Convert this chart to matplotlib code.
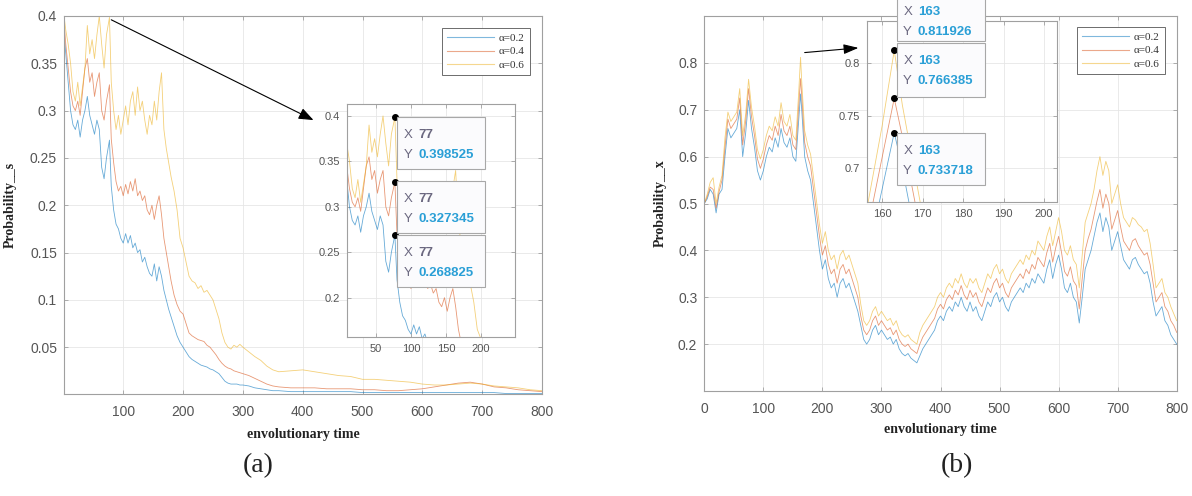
import matplotlib
matplotlib.use("Agg")
import matplotlib.pyplot as plt
from matplotlib.patches import Rectangle
from matplotlib.transforms import IdentityTransform
from matplotlib.ticker import FormatStrFormatter

# ---------------- data: panel (a) ----------------
t_a = [1, 4, 8, 12, 16, 20, 24, 28, 32, 36,
       40, 44, 48, 52, 56, 60, 64, 68, 72, 77,
       80, 84, 88, 92, 96, 100, 104, 108, 112, 116,
       120, 124, 128, 132, 136, 140, 144, 148, 152, 156,
       160, 164, 168, 172, 176, 180,
       185, 190, 195, 200, 205, 210, 215, 220, 225, 230,
       235, 240, 245, 250, 255, 260, 265, 270, 275, 280,
       285, 290, 295, 300,
       310, 320, 330, 340, 350, 360,
       380, 400, 420, 440, 460, 480, 500, 520, 540, 560, 580, 600,
       620, 640, 660, 680, 700, 720, 740, 760, 780, 800]

s_a02 = [0.38, 0.36, 0.33, 0.30, 0.285, 0.28, 0.29, 0.272, 0.29, 0.30,
         0.315, 0.295, 0.285, 0.275, 0.29, 0.28, 0.24, 0.228, 0.25, 0.268825,
         0.22, 0.195, 0.18, 0.175, 0.165, 0.16, 0.17, 0.16, 0.168, 0.155,
         0.16, 0.15, 0.153, 0.14, 0.145, 0.135, 0.128, 0.125, 0.138, 0.12,
         0.135, 0.125, 0.11, 0.10, 0.09, 0.082,
         0.072, 0.062, 0.055, 0.05, 0.045, 0.04, 0.037, 0.035, 0.033, 0.031,
         0.03, 0.029, 0.027, 0.026, 0.024, 0.022, 0.018, 0.014, 0.012, 0.011,
         0.011, 0.011, 0.010, 0.010,
         0.009, 0.007, 0.006, 0.005, 0.004, 0.004,
         0.003, 0.003, 0.003, 0.003, 0.003, 0.003, 0.002, 0.002, 0.002, 0.002, 0.002, 0.002,
         0.002, 0.002, 0.002, 0.002, 0.002, 0.002, 0.001, 0.001, 0.001, 0.001]

s_a04 = [0.395, 0.37, 0.345, 0.32, 0.305, 0.30, 0.31, 0.295, 0.32, 0.345,
         0.355, 0.33, 0.34, 0.315, 0.33, 0.34, 0.30, 0.29, 0.31, 0.327345,
         0.27, 0.245, 0.225, 0.215, 0.22, 0.21, 0.222, 0.212, 0.225, 0.215,
         0.228, 0.21, 0.215, 0.205, 0.21, 0.195, 0.19, 0.20, 0.185, 0.20,
         0.21, 0.19, 0.165, 0.15, 0.135, 0.12,
         0.105, 0.095, 0.088, 0.085, 0.075, 0.065, 0.062, 0.06, 0.058, 0.057,
         0.056, 0.052, 0.05, 0.046, 0.042, 0.037, 0.033, 0.03, 0.028, 0.027,
         0.025, 0.024, 0.023, 0.022,
         0.02, 0.017, 0.014, 0.011, 0.009, 0.008,
         0.007, 0.007, 0.007, 0.006, 0.006, 0.006, 0.005, 0.005, 0.004, 0.004, 0.005, 0.006,
         0.008, 0.01, 0.012, 0.013, 0.011, 0.008, 0.007, 0.005, 0.004, 0.003]

s_a06 = [0.40, 0.385, 0.37, 0.35, 0.32, 0.31, 0.33, 0.305, 0.325, 0.345,
         0.39, 0.36, 0.375, 0.355, 0.38, 0.40, 0.37, 0.345, 0.38, 0.398525,
         0.33, 0.30, 0.28, 0.295, 0.275, 0.29, 0.305, 0.285, 0.31, 0.32,
         0.295, 0.325, 0.30, 0.31, 0.29, 0.275, 0.295, 0.285, 0.31, 0.29,
         0.32, 0.34, 0.28, 0.26, 0.245, 0.23,
         0.215, 0.195, 0.165, 0.155, 0.14, 0.125, 0.12, 0.118, 0.112, 0.115,
         0.108, 0.11, 0.105, 0.10, 0.09, 0.08, 0.065, 0.055, 0.05, 0.048,
         0.052, 0.05, 0.053, 0.05,
         0.045, 0.04, 0.036, 0.03, 0.026, 0.024,
         0.025, 0.026, 0.024, 0.022, 0.02, 0.019, 0.016, 0.016, 0.015, 0.014, 0.013, 0.011,
         0.01, 0.01, 0.011, 0.012, 0.011, 0.009, 0.008, 0.007, 0.005, 0.004]

tip_a_x = 77
tip_a_y = [0.398525, 0.327345, 0.268825]

# ---------------- data: panel (b) ----------------
t_b = list(range(0, 161, 5)) + [163] + list(range(165, 801, 5))

x_b02 = [0.50, 0.51, 0.53, 0.52, 0.48, 0.52, 0.53, 0.60, 0.66, 0.64,
         0.65, 0.66, 0.70, 0.60, 0.65, 0.72, 0.66, 0.62, 0.57, 0.55,
         0.57, 0.60, 0.62, 0.61, 0.64, 0.62, 0.66, 0.63, 0.62, 0.64,
         0.60, 0.59, 0.68, 0.733718, 0.70, 0.60, 0.57, 0.55, 0.50, 0.45, 0.40,
         0.36, 0.38, 0.34, 0.32, 0.33, 0.30, 0.33, 0.34, 0.32, 0.33,
         0.31, 0.29, 0.27, 0.24, 0.21, 0.20, 0.21, 0.23, 0.24, 0.22,
         0.23, 0.22, 0.21, 0.215, 0.20, 0.21, 0.19, 0.18, 0.175, 0.18,
         0.17, 0.165, 0.16, 0.175, 0.19, 0.20, 0.21, 0.22, 0.23, 0.25,
         0.26, 0.25, 0.27, 0.28, 0.27, 0.29, 0.28, 0.30, 0.28, 0.27,
         0.29, 0.27, 0.28, 0.26, 0.25, 0.27, 0.29, 0.28, 0.30, 0.31,
         0.29, 0.30, 0.28, 0.27, 0.29, 0.30, 0.31, 0.32, 0.31, 0.33,
         0.32, 0.34, 0.33, 0.35, 0.34, 0.33, 0.36, 0.38, 0.34, 0.37,
         0.39, 0.36, 0.32, 0.31, 0.33, 0.30, 0.29, 0.245, 0.30, 0.36,
         0.38, 0.40, 0.43, 0.46, 0.48, 0.44, 0.47, 0.45, 0.40, 0.42,
         0.44, 0.41, 0.38, 0.37, 0.36, 0.38, 0.385, 0.37, 0.36, 0.35,
         0.355, 0.33, 0.29, 0.26, 0.27, 0.28, 0.25, 0.24, 0.22, 0.21,
         0.20]

x_b04 = [0.50, 0.515, 0.535, 0.53, 0.49, 0.525, 0.55, 0.62, 0.68, 0.66,
         0.67, 0.68, 0.725, 0.625, 0.675, 0.745, 0.685, 0.645, 0.595, 0.575,
         0.595, 0.625, 0.645, 0.635, 0.665, 0.645, 0.69, 0.655, 0.645, 0.665,
         0.625, 0.615, 0.71, 0.766385, 0.73, 0.63, 0.60, 0.58, 0.53, 0.48, 0.43,
         0.39, 0.41, 0.37, 0.35, 0.36, 0.33, 0.36, 0.37, 0.35, 0.36,
         0.34, 0.32, 0.30, 0.26, 0.23, 0.22, 0.23, 0.25, 0.26, 0.24,
         0.25, 0.24, 0.23, 0.235, 0.22, 0.23, 0.21, 0.20, 0.195, 0.20,
         0.19, 0.185, 0.18, 0.20, 0.215, 0.225, 0.235, 0.245, 0.255, 0.275,
         0.285, 0.275, 0.295, 0.305, 0.295, 0.315, 0.305, 0.325, 0.305, 0.295,
         0.315, 0.30, 0.31, 0.29, 0.28, 0.30, 0.32, 0.31, 0.33, 0.34,
         0.32, 0.33, 0.31, 0.30, 0.32, 0.33, 0.34, 0.35, 0.34, 0.36,
         0.35, 0.37, 0.36, 0.385, 0.375, 0.365, 0.395, 0.415, 0.375, 0.405,
         0.43, 0.395, 0.355, 0.345, 0.365, 0.335, 0.325, 0.275, 0.34, 0.40,
         0.425, 0.445, 0.475, 0.505, 0.53, 0.49, 0.52, 0.50, 0.445, 0.465,
         0.485, 0.45, 0.42, 0.41, 0.40, 0.42, 0.425, 0.41, 0.40, 0.39,
         0.395, 0.37, 0.33, 0.29, 0.30, 0.31, 0.28, 0.27, 0.25, 0.24,
         0.225]

x_b06 = [0.50, 0.52, 0.545, 0.555, 0.50, 0.535, 0.56, 0.64, 0.695, 0.675,
         0.685, 0.695, 0.745, 0.645, 0.69, 0.765, 0.705, 0.665, 0.615, 0.595,
         0.615, 0.645, 0.665, 0.655, 0.685, 0.665, 0.715, 0.675, 0.665, 0.69,
         0.645, 0.635, 0.74, 0.811926, 0.76, 0.655, 0.625, 0.605, 0.555, 0.505, 0.455,
         0.415, 0.44, 0.40, 0.38, 0.39, 0.36, 0.39, 0.40, 0.38, 0.39,
         0.37, 0.35, 0.33, 0.285, 0.25, 0.24, 0.25, 0.27, 0.28, 0.26,
         0.27, 0.26, 0.25, 0.255, 0.24, 0.25, 0.23, 0.22, 0.215, 0.22,
         0.21, 0.205, 0.20, 0.225, 0.24, 0.25, 0.26, 0.27, 0.28, 0.30,
         0.31, 0.30, 0.32, 0.33, 0.32, 0.34, 0.33, 0.35, 0.33, 0.32,
         0.34, 0.33, 0.34, 0.32, 0.31, 0.33, 0.35, 0.34, 0.36, 0.37,
         0.35, 0.36, 0.34, 0.33, 0.35, 0.36, 0.37, 0.38, 0.37, 0.39,
         0.38, 0.40, 0.39, 0.42, 0.41, 0.40, 0.43, 0.45, 0.41, 0.44,
         0.47, 0.44, 0.40, 0.39, 0.41, 0.38, 0.37, 0.32, 0.39, 0.46,
         0.48, 0.50, 0.53, 0.57, 0.60, 0.56, 0.59, 0.57, 0.50, 0.52,
         0.54, 0.50, 0.47, 0.46, 0.45, 0.47, 0.465, 0.455, 0.45, 0.44,
         0.445, 0.415, 0.37, 0.32, 0.33, 0.34, 0.31, 0.30, 0.28, 0.265,
         0.25]

tip_b_x = 163
tip_b_y = [0.811926, 0.766385, 0.733718]

labels = ["\u03b1=0.2", "\u03b1=0.4", "\u03b1=0.6"]
colors = ["#0072BD", "#D95319", "#EDB120"]

# ---------------- figure ----------------
W, H = 1192, 496
fig = plt.figure(figsize=(W / 100, H / 100), dpi=100)


def fbox(l, t, r, b):
    return [l / W, 1 - b / H, (r - l) / W, (b - t) / H]


ax_a = fig.add_axes(fbox(64, 16, 542, 394))
ax_b = fig.add_axes(fbox(704.3, 16, 1176.7, 391))
ins_a = fig.add_axes(fbox(346.7, 103.7, 515, 336.7))
ins_b = fig.add_axes(fbox(866.7, 21, 1056.7, 201.7))

TICK_COL = "#555555"
SPINE_COL = "#a0a0a0"


def style(ax, fs):
    for sp in ax.spines.values():
        sp.set_color(SPINE_COL)
        sp.set_linewidth(0.8)
    ax.tick_params(direction="in", top=True, right=True, length=3, width=0.6,
                   colors=SPINE_COL, labelcolor=TICK_COL, labelsize=fs, pad=5)
    ax.grid(True, color="#e6e6e6", linewidth=0.6)
    ax.set_axisbelow(True)
    for lab in ax.get_xticklabels() + ax.get_yticklabels():
        lab.set_family("Liberation Sans")


series_a = [s_a02, s_a04, s_a06]
series_b = [x_b02, x_b04, x_b06]

for ax in (ax_a, ins_a):
    for s, c, lab in zip(series_a, colors, labels):
        ax.plot(t_a, s, color=c, lw=0.6, alpha=0.6, label=lab)
for ax in (ax_b, ins_b):
    for s, c, lab in zip(series_b, colors, labels):
        ax.plot(t_b, s, color=c, lw=0.6, alpha=0.6, label=lab)

# panel (a) main
ax_a.set_xlim(1, 800)
ax_a.set_ylim(0.0005, 0.4)
ax_a.set_xticks([100, 200, 300, 400, 500, 600, 700, 800])
ax_a.set_yticks([0.05, 0.1, 0.15, 0.2, 0.25, 0.3, 0.35, 0.4])
ax_a.yaxis.set_major_formatter(FormatStrFormatter("%g"))
style(ax_a, 10)
ax_a.tick_params(axis="x", pad=8)

# panel (b) main
ax_b.set_xlim(0, 800)
ax_b.set_ylim(0.1, 0.9)
ax_b.set_xticks([0, 100, 200, 300, 400, 500, 600, 700, 800])
ax_b.set_yticks([0.2, 0.3, 0.4, 0.5, 0.6, 0.7, 0.8])
ax_b.yaxis.set_major_formatter(FormatStrFormatter("%g"))
style(ax_b, 10)
ax_b.tick_params(axis="x", pad=8)

# insets
ins_a.set_xlim(8, 249)
ins_a.set_ylim(0.157, 0.4135)
ins_a.set_xticks([50, 100, 150, 200])
ins_a.set_yticks([0.2, 0.25, 0.3, 0.35, 0.4])
ins_a.yaxis.set_major_formatter(FormatStrFormatter("%g"))
style(ins_a, 8)

ins_b.set_xlim(156.2, 203.1)
ins_b.set_ylim(0.668, 0.840)
ins_b.set_xticks([160, 170, 180, 190, 200])
ins_b.set_yticks([0.7, 0.75, 0.8])
ins_b.yaxis.set_major_formatter(FormatStrFormatter("%g"))
style(ins_b, 8)

# labels
lab_font = dict(family="Liberation Serif", fontweight="bold", fontsize=10, color="#222222")
ax_a.set_xlabel("envolutionary time", **lab_font)
ax_b.set_xlabel("envolutionary time", **lab_font)
ax_a.set_ylabel("Probability__s", **lab_font)
ax_b.set_ylabel("Probability__x", **lab_font)
ax_a.xaxis.set_label_coords(0.5, (394 - 428) / 378)
ax_b.xaxis.set_label_coords(0.5, (391 - 423) / 375)
ax_a.yaxis.set_label_coords((17 - 64) / 478, 0.5)
ax_b.yaxis.set_label_coords((667 - 704.3) / 472.4, 0.5)

# legends
for ax, (r, t) in ((ax_a, (530, 28)), (ax_b, (1165, 27))):
    leg = ax.legend(loc="upper right", bbox_to_anchor=(r / W, 1 - t / H),
                    bbox_transform=fig.transFigure, fancybox=False, framealpha=1,
                    edgecolor="#555555", prop=dict(family="Liberation Serif", size=8),
                    handlelength=4.2, handletextpad=0.4, labelspacing=0.3,
                    borderpad=0.5, borderaxespad=0)
    leg.get_frame().set_linewidth(0.6)
    for ln in leg.get_lines():
        ln.set_linewidth(0.8)
        ln.set_alpha(0.5)
    for tx in leg.get_texts():
        tx.set_color("#333333")

# arrows
ax_a.annotate("", xy=(418, 0.29), xytext=(80, 0.396), annotation_clip=False,
              arrowprops=dict(arrowstyle="-|>,head_length=0.9,head_width=0.35",
                              color="black", lw=0.8, shrinkA=0, shrinkB=0))
ax_b.annotate("", xy=(261, 0.832), xytext=(170, 0.822), annotation_clip=False,
              arrowprops=dict(arrowstyle="-|>,head_length=0.9,head_width=0.3",
                              color="black", lw=0.8, shrinkA=0, shrinkB=0))

# data tips
ins_a.plot([tip_a_x] * 3, tip_a_y, "o", color="black", ms=4, clip_on=False, zorder=5)
ins_b.plot([tip_b_x] * 3, tip_b_y, "o", color="black", ms=4, clip_on=False, zorder=5)

LBL_COL = "#6b6880"
VAL_COL = "#2a9fd6"
ident = IdentityTransform()


def datatip(ax, x, y, top_off, height, xval_col):
    dx, dy = ax.transData.transform((x, y))
    my = H - dy
    left = dx + 2.5
    top = my + top_off
    rect = Rectangle((left, H - (top + height)), 88, height, transform=ident,
                     facecolor="#fbfbfd", edgecolor="#a8a8a8", linewidth=0.8, zorder=6)
    fig.add_artist(rect)
    for row, (nm, val, vc) in enumerate((("X", "%d" % x, xval_col),
                                         ("Y", "%.6f" % y, VAL_COL))):
        yc = H - (top + 18 + 20 * row)
        fig.text(left + 6.5, yc, nm, transform=ident, color=LBL_COL, fontsize=9.5,
                 family="Liberation Sans", va="center", ha="left", zorder=7)
        fig.text(left + 21, yc, val, transform=ident, color=vc, fontsize=9.5,
                 family="Liberation Sans", fontweight="bold", va="center",
                 ha="left", zorder=7)


for yv in tip_a_y:
    datatip(ins_a, tip_a_x, yv, -0.5, 52, LBL_COL)
for yv, off, hh in zip(tip_b_y, (-56, -55.6, 0), (47, 54, 52)):
    datatip(ins_b, tip_b_x, yv, off, hh, VAL_COL)

# captions
fig.text(258 / W, 1 - 466 / H, "(a)", family="Liberation Serif", fontsize=20,
         ha="center", va="center", color="#222222")
fig.text(957 / W, 1 - 466 / H, "(b)", family="Liberation Serif", fontsize=20,
         ha="center", va="center", color="#222222")

fig.savefig("out.png", dpi=100)
